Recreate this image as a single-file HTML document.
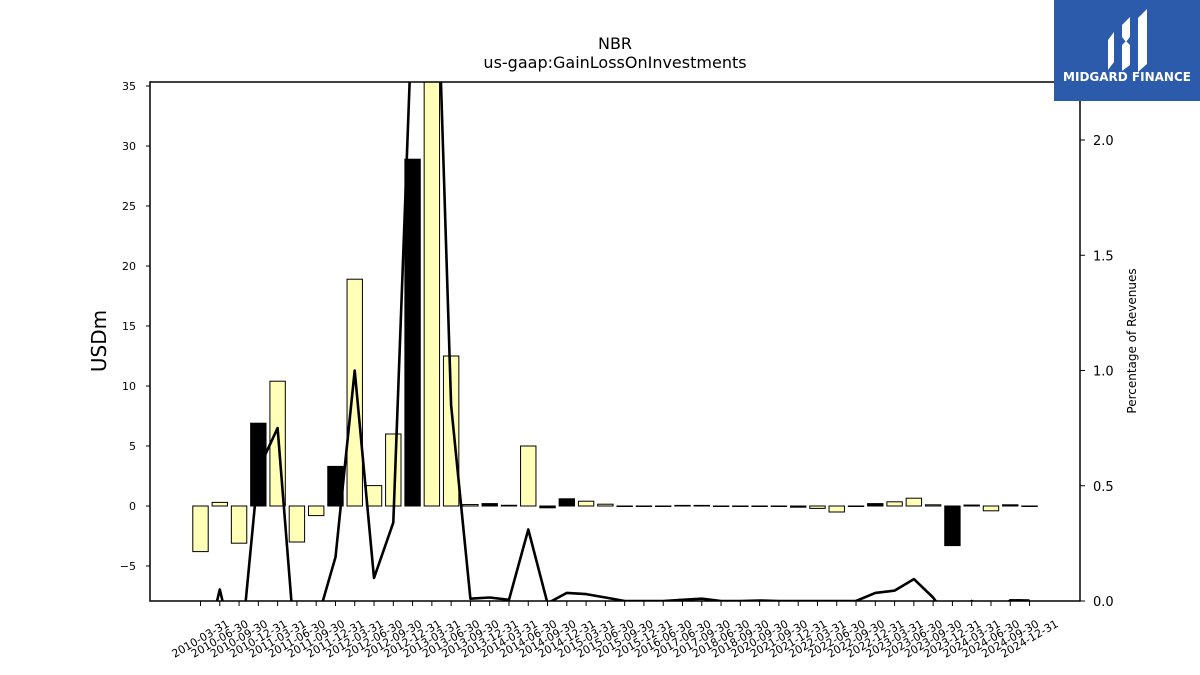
<!DOCTYPE html>
<html><head><meta charset="utf-8"><style>
body{margin:0;background:#fff;}
svg{display:block;font-family:"DejaVu Sans","Liberation Sans",sans-serif;}
</style></head><body>
<svg id="chart" width="1200" height="675" viewBox="0 0 1200 675">
<rect width="1200" height="675" fill="#fff"/>
<text x="615" y="49" text-anchor="middle" font-size="16">NBR</text>
<text x="615" y="68" text-anchor="middle" font-size="16">us-gaap:GainLossOnInvestments</text>
<defs><clipPath id="plotclip"><rect x="150" y="82" width="930" height="519"/></clipPath></defs>
<g id="bars" clip-path="url(#plotclip)"></g>
<g id="line" clip-path="url(#plotclip)"></g>
<rect x="150" y="82" width="930" height="519" fill="none" stroke="#000" stroke-width="1.5"/>
<g id="yleft"></g><g id="yright"></g><g id="xaxis"></g>
<text transform="translate(106,341) rotate(-90)" text-anchor="middle" font-size="20">USDm</text>
<text transform="translate(1136,341) rotate(-90)" text-anchor="middle" font-size="12">Percentage of Revenues</text>
<g>
<rect x="1054" y="0" width="146" height="101" fill="#2c5bac"/>
<path d="M1108 40 l6 -8 v30 l-6 8z M1122 25 l8 -8 v20 l-4 5 l-4 -5z M1122 45 l4 -4 l4 4 v20 l-8 6z M1138 18 l9 -9 v55 l-9 8z" fill="#fff"/>
<text x="1127" y="81" text-anchor="middle" font-size="12" font-weight="bold" fill="#fff">MIDGARD FINANCE</text>
</g>
</svg>
<script>
const categories=["2010-03-31","2010-06-30","2010-09-30","2010-12-31","2011-03-31","2011-06-30","2011-09-30","2011-12-31","2012-03-31","2012-06-30","2012-09-30","2012-12-31","2013-03-31","2013-06-30","2013-09-30","2013-12-31","2014-03-31","2014-06-30","2014-09-30","2014-12-31","2015-03-31","2015-06-30","2015-09-30","2015-12-31","2016-06-30","2017-06-30","2017-09-30","2018-06-30","2018-09-30","2020-09-30","2021-09-30","2021-12-31","2022-03-31","2022-06-30","2022-09-30","2022-12-31","2023-03-31","2023-06-30","2023-09-30","2023-12-31","2024-03-31","2024-06-30","2024-09-30","2024-12-31"];
const values=[-3.8,0.3,-3.1,6.9,10.4,-3.0,-0.8,3.3,18.9,1.7,6.0,28.9,40,12.5,0.12,0.2,0.06,5.0,-0.15,0.6,0.4,0.15,0,0,0,0.05,0.05,0,0,0,0,-0.1,-0.2,-0.5,0,0.2,0.35,0.65,0.1,-3.3,0.08,-0.4,0.1,0];
const barColors=["y","y","y","b","y","y","y","b","y","y","y","b","y","y","y","b","b","y","b","b","y","y","y","y","y","b","b","y","y","y","y","b","y","y","y","b","y","y","y","b","b","y","b","y"];
const pctRevenue=[-0.3,0.05,-0.3,0.57,0.75,-0.3,-0.1,0.19,1.0,0.1,0.34,2.6,3.5,0.85,0.01,0.015,0.005,0.31,-0.01,0.035,0.03,0.015,0,0,0,0.005,0.01,0,0,0.002,0,0,0,0,0,0.035,0.045,0.095,0.015,-0.1,0,-0.05,0.003,0.002];
const leftTicks=[-5,0,5,10,15,20,25,30,35];
const rightTicks=[0.0,0.5,1.0,1.5,2.0];
const NS="http://www.w3.org/2000/svg";
const X0=200.5,DX=19.28;
function xs(i){return X0+i*DX;}
function yl(v){return 506-12*v;}
function yr(v){return 601-230.5*v;}
function mk(tag,attrs,parent){const e=document.createElementNS(NS,tag);for(const k in attrs)e.setAttribute(k,attrs[k]);parent.appendChild(e);return e;}
const gb=document.getElementById('bars');
values.forEach((v,i)=>{
  const y0=yl(0),y1=yl(v);
  const r=mk('rect',{x:xs(i)-7.7,y:Math.min(y0,y1),width:15.4,height:Math.max(Math.abs(y1-y0),0.5),fill:barColors[i]==='b'?'#000':'#ffffb8',stroke:'#000','stroke-width':1},gb);
  
  
});
const gl=document.getElementById('line');
const pts=pctRevenue.map((v,i)=>xs(i).toFixed(1)+','+yr(v).toFixed(1)).join(' ');
const pl=mk('polyline',{points:pts,fill:'none',stroke:'#000','stroke-width':2.6,'stroke-linejoin':'round'},gl);


const gyl=document.getElementById('yleft');
leftTicks.forEach(t=>{
  mk('line',{x1:146,x2:150,y1:yl(t),y2:yl(t),stroke:'#000'},gyl);
  const tx=mk('text',{x:136,y:yl(t)+4,'text-anchor':'end','font-size':11},gyl);
  tx.textContent=t<0?'\u2212'+Math.abs(t):String(t);
  
  
});
const gyr=document.getElementById('yright');
rightTicks.forEach(t=>{
  mk('line',{x1:1080,x2:1085,y1:yr(t),y2:yr(t),stroke:'#000'},gyr);
  const tx=mk('text',{x:1093,y:yr(t)+5,'font-size':13},gyr);
  tx.textContent=t.toFixed(1);
  
  
});
const gx=document.getElementById('xaxis');
categories.forEach((c,i)=>{
  mk('line',{x1:xs(i),x2:xs(i),y1:601,y2:606,stroke:'#000'},gx);
  const tx=mk('text',{transform:'translate('+xs(i)+',639) rotate(-30)','text-anchor':'middle','dominant-baseline':'central','font-size':11},gx);
  tx.textContent=c;
  
  
});
</script>
</body></html>
